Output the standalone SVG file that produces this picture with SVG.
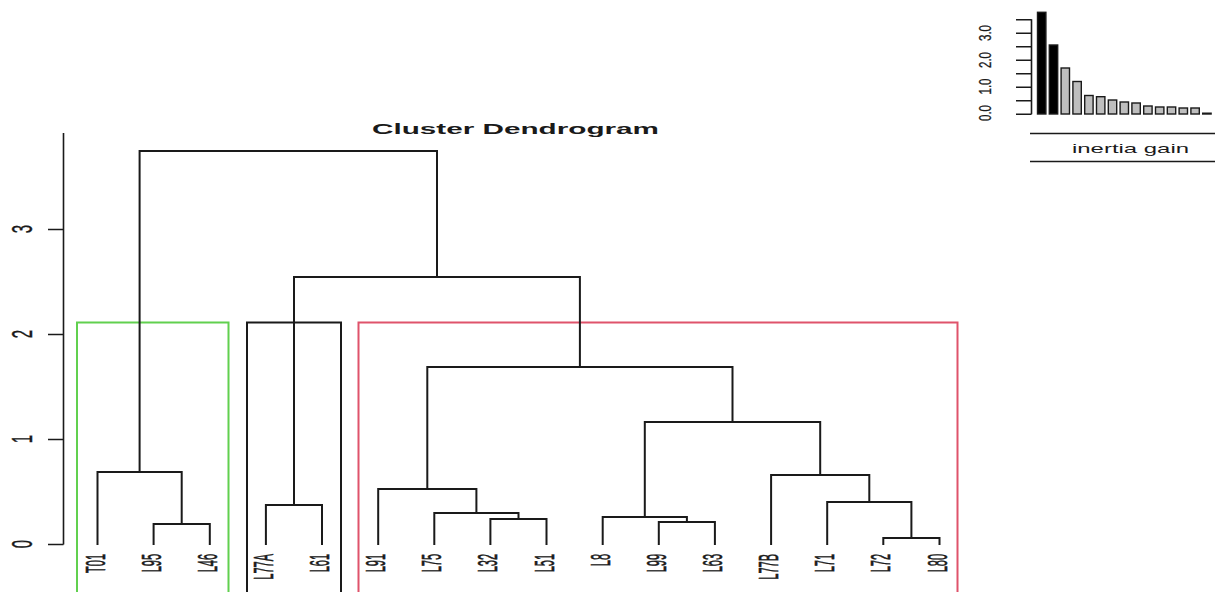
<svg xmlns="http://www.w3.org/2000/svg" width="1215" height="592" viewBox="0 0 1215 592">
<style>
.bg{fill:#ffffff}
.ln{fill:none;stroke:#1a1a1a;stroke-width:2;stroke-linecap:square}
.ax{fill:none;stroke:#1a1a1a;stroke-width:1.6}
.lbl{font-family:"Liberation Sans",Arial,sans-serif;font-size:11px;fill:#1a1a1a;stroke:#1a1a1a;stroke-width:0.25;text-anchor:end}
.axl{font-family:"Liberation Sans",Arial,sans-serif;font-size:15px;fill:#1a1a1a;stroke:#1a1a1a;stroke-width:0.2;text-anchor:middle}
.ial{font-family:"Liberation Sans",Arial,sans-serif;font-size:11.5px;fill:#1a1a1a;stroke:#1a1a1a;stroke-width:0.2;text-anchor:middle}
.title{font-family:"Liberation Sans",Arial,sans-serif;font-size:15px;font-weight:bold;fill:#1a1a1a;text-anchor:middle}
.ig{font-family:"Liberation Sans",Arial,sans-serif;font-size:13.5px;fill:#1a1a1a;text-anchor:middle}
.barK{fill:#000000;stroke:#1a1a1a;stroke-width:1.4}
.barG{fill:#bebebe;stroke:#1a1a1a;stroke-width:1.4}
.boxG{fill:none;stroke:#61D04F;stroke-width:2}
.boxK{fill:none;stroke:#1a1a1a;stroke-width:2}
.boxR{fill:none;stroke:#DF536B;stroke-width:2}
</style>
<rect class="bg" x="0" y="0" width="1215" height="592"/>

<text class="title" x="515.5" y="134" textLength="287" lengthAdjust="spacingAndGlyphs">Cluster Dendrogram</text>

<g id="y-axis">
  <path class="ax" d="M63.5 133V544.5M48 544.5H63.5M48 439.5H63.5M48 334.5H63.5M48 229.5H63.5"/>
  <text class="axl" transform="translate(32,544) scale(1.95,1) rotate(-90)">0</text>
  <text class="axl" transform="translate(32,439) scale(1.95,1) rotate(-90)">1</text>
  <text class="axl" transform="translate(32,334) scale(1.95,1) rotate(-90)">2</text>
  <text class="axl" transform="translate(32,229) scale(1.95,1) rotate(-90)">3</text>
</g>

<g id="cluster-boxes">
  <path class="boxG" d="M77 600V322.5H228.5V600"/>
  <path class="boxK" d="M247 600V322.5H341V600"/>
  <path class="boxR" d="M358.5 600V322.5H957.5V600"/>
</g>

<g id="connectors">
  <path class="ln" d="M153.6 544V524H209.8V544"/>
  <path class="ln" d="M97.5 544V472H181.7V524"/>
  <path class="ln" d="M265.9 544V505H322V544"/>
  <path class="ln" d="M490.4 544V519H546.5V544"/>
  <path class="ln" d="M434.3 544V513H518.5V519"/>
  <path class="ln" d="M378.2 544V489H476.4V513"/>
  <path class="ln" d="M658.8 544V522H714.9V544"/>
  <path class="ln" d="M602.7 544V517H686.9V522"/>
  <path class="ln" d="M883.3 544V538H939.5V544"/>
  <path class="ln" d="M827.2 544V502H911.4V538"/>
  <path class="ln" d="M771.1 544V475H869.3V502"/>
  <path class="ln" d="M644.8 517V422H820.2V475"/>
  <path class="ln" d="M427.3 489V367H732.5V422"/>
  <path class="ln" d="M294 505V277H579.9V367"/>
  <path class="ln" d="M139.6 472V151H437V277"/>
</g>

<g id="leaf-T01"><text class="lbl" transform="translate(104.5,554) scale(2.5,1) rotate(-90)">T01</text></g>
<g id="leaf-L95"><text class="lbl" transform="translate(160.6,554) scale(2.5,1) rotate(-90)">L95</text></g>
<g id="leaf-L46"><text class="lbl" transform="translate(216.8,554) scale(2.5,1) rotate(-90)">L46</text></g>
<g id="leaf-L77A"><text class="lbl" transform="translate(272.9,554) scale(2.5,1) rotate(-90)">L77A</text></g>
<g id="leaf-L61"><text class="lbl" transform="translate(329,554) scale(2.5,1) rotate(-90)">L61</text></g>
<g id="leaf-L91"><text class="lbl" transform="translate(385.2,554) scale(2.5,1) rotate(-90)">L91</text></g>
<g id="leaf-L75"><text class="lbl" transform="translate(441.3,554) scale(2.5,1) rotate(-90)">L75</text></g>
<g id="leaf-L32"><text class="lbl" transform="translate(497.4,554) scale(2.5,1) rotate(-90)">L32</text></g>
<g id="leaf-L51"><text class="lbl" transform="translate(553.5,554) scale(2.5,1) rotate(-90)">L51</text></g>
<g id="leaf-L8"><text class="lbl" transform="translate(609.7,554) scale(2.5,1) rotate(-90)">L8</text></g>
<g id="leaf-L99"><text class="lbl" transform="translate(665.8,554) scale(2.5,1) rotate(-90)">L99</text></g>
<g id="leaf-L63"><text class="lbl" transform="translate(721.9,554) scale(2.5,1) rotate(-90)">L63</text></g>
<g id="leaf-L77B"><text class="lbl" transform="translate(778.1,554) scale(2.5,1) rotate(-90)">L77B</text></g>
<g id="leaf-L71"><text class="lbl" transform="translate(834.2,554) scale(2.5,1) rotate(-90)">L71</text></g>
<g id="leaf-L72"><text class="lbl" transform="translate(890.3,554) scale(2.5,1) rotate(-90)">L72</text></g>
<g id="leaf-L80"><text class="lbl" transform="translate(946.5,554) scale(2.5,1) rotate(-90)">L80</text></g>

<g id="inertia-gain">
  <path class="ax" d="M1031.5 19.3V114.3M1016 114.3H1031.5M1016 100.8H1031.5M1016 87.3H1031.5M1016 73.8H1031.5M1016 60.3H1031.5M1016 46.8H1031.5M1016 33.3H1031.5M1016 19.8H1031.5"/>
  <text class="ial" transform="translate(991,113) scale(1.5,1) rotate(-90)">0.0</text>
  <text class="ial" transform="translate(991,86.5) scale(1.5,1) rotate(-90)">1.0</text>
  <text class="ial" transform="translate(991,60) scale(1.5,1) rotate(-90)">2.0</text>
  <text class="ial" transform="translate(991,33) scale(1.5,1) rotate(-90)">3.0</text>
  <rect class="barK" x="1037.5" y="12.3" width="8.4" height="101.7"/>
  <rect class="barK" x="1049.3" y="45" width="8.4" height="69"/>
  <rect class="barG" x="1061.1" y="68" width="8.4" height="46"/>
  <rect class="barG" x="1072.9" y="81.5" width="8.4" height="32.5"/>
  <rect class="barG" x="1084.7" y="95.5" width="8.4" height="18.5"/>
  <rect class="barG" x="1096.5" y="96.7" width="8.4" height="17.3"/>
  <rect class="barG" x="1108.3" y="100" width="8.4" height="14"/>
  <rect class="barG" x="1120.1" y="102" width="8.4" height="12"/>
  <rect class="barG" x="1131.9" y="103" width="8.4" height="11"/>
  <rect class="barG" x="1143.7" y="106" width="8.4" height="8"/>
  <rect class="barG" x="1155.5" y="107" width="8.4" height="7"/>
  <rect class="barG" x="1167.3" y="107" width="8.4" height="7"/>
  <rect class="barG" x="1179.1" y="108" width="8.4" height="6"/>
  <rect class="barG" x="1190.9" y="108" width="8.4" height="6"/>
  <rect class="barG" x="1202.7" y="113.2" width="8.4" height="0.8"/>
  <path class="ax" d="M1030 133.5H1215M1030 161.5H1215"/>
  <text class="ig" x="1130.5" y="153" textLength="117" lengthAdjust="spacingAndGlyphs">inertia gain</text>
</g>
</svg>
